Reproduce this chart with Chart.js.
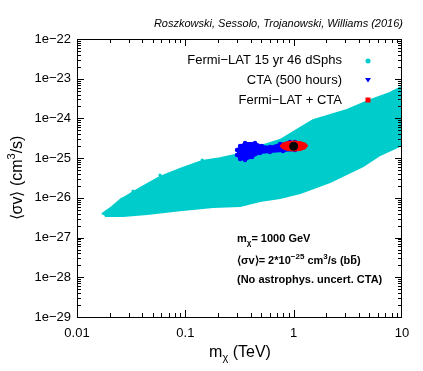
<!DOCTYPE html>
<html>
<head>
<meta charset="utf-8">
<script src="https://cdn.jsdelivr.net/npm/chart.js@4.4.1/dist/chart.umd.min.js"></script>
<style>
  html, body { margin: 0; padding: 0; background: #fff; }
  #wrap { width: 423px; height: 371px; }
</style>
</head>
<body>
<div id="wrap"><canvas id="plot" width="423" height="371"></canvas></div>
<script>
/**
 * DATA
 */
const massTicks = [0.01, 0.1, 1, 10];
const massTickLabels = ['0.01', '0.1', '1', '10'];
const sigmaTicks = [1e-29, 1e-28, 1e-27, 1e-26, 1e-25, 1e-24, 1e-23, 1e-22];
const sigmaTickLabels = ['1e\u221229', '1e\u221228', '1e\u221227', '1e\u221226', '1e\u221225', '1e\u221224', '1e\u221223', '1e\u221222'];

// Fermi-LAT 15 yr band: upper edge left -> right, then lower edge right -> left
const fermiMass  = [0.0170, 0.0210, 0.0249, 0.0382, 0.0584, 0.0893, 0.143, 0.209, 0.287, 0.489, 0.748, 1.51, 3.11, 5.07, 7.75, 10,
                    10, 6.27, 4.37, 2.16, 1.15, 0.748, 0.489, 0.320, 0.180, 0.0893, 0.0443, 0.0266, 0.0181];
const fermiSigma = [3.9e-27, 5.9e-27, 8.8e-27, 1.77e-26, 3.35e-26, 5.32e-26, 8.5e-26, 1.0e-25, 1.2e-25, 2.0e-25, 2.86e-25, 9.1e-25, 1.63e-24, 2.9e-24, 4.4e-24, 6.2e-24,
                    2.14e-25, 1.2e-25, 6.3e-26, 2.51e-26, 1.32e-26, 9.9e-27, 8.3e-27, 6.2e-27, 5.9e-27, 4.9e-27, 3.9e-27, 3.5e-27, 3.5e-27];
// stray scan points outside the dense band
const fermiLooseMass  = [0.0202, 0.026, 0.0329, 0.0584, 0.0803, 0.0912, 0.143, 3.31, 5.88, 7.27, 8.26, 9.59];
const fermiLooseSigma = [4.94e-27, 9.35e-27, 1.49e-26, 3.76e-26, 4.48e-26, 4.48e-26, 8.97e-26, 1.63e-24, 2.75e-24, 3.27e-24, 4.63e-24, 5.83e-24];

// CTA (500 hours) region outline
const ctaMass  = [0.300, 0.320, 0.356, 0.440, 0.510, 0.605, 0.748, 0.925, 1.03,
                  1.03, 0.797, 0.605, 0.489, 0.413, 0.356, 0.320, 0.300];
const ctaSigma = [1.60e-25, 2.02e-25, 2.40e-25, 2.40e-25, 2.02e-25, 1.91e-25, 2.27e-25, 2.55e-25, 2.55e-25,
                  1.60e-25, 1.51e-25, 1.43e-25, 1.35e-25, 1.07e-25, 8.97e-26, 9.5e-26, 1.2e-25];

// Fermi-LAT + CTA region outline
const comboMass  = [1.356, 1.300, 1.169, 1.007, 0.868, 0.781, 0.748, 0.781, 0.868, 1.007, 1.169, 1.300];
const comboSigma = [2.02e-25, 2.34e-25, 2.59e-25, 2.70e-25, 2.59e-25, 2.34e-25, 2.02e-25, 1.75e-25, 1.57e-25, 1.51e-25, 1.57e-25, 1.75e-25];

// benchmark point
const benchMass = [1];
const benchSigma = [2e-25];

const FONT = "'Liberation Sans', Arial, Helvetica, sans-serif";
const CYAN = '#00cccc';

const toXY = (xs, ys) => xs.map((x, i) => ({ x: x, y: ys[i] }));

/**
 * PLUGINS
 */
// fills the closed outline of datasets flagged with "area"
const areaFill = {
    id: 'areaFill',
    beforeDatasetDraw(chart, args) {
        const ds = chart.data.datasets[args.index];
        if (!ds.area) return;
        const a = chart.chartArea, ctx = chart.ctx;
        ctx.save();
        ctx.beginPath(); ctx.rect(a.left, a.top, a.right - a.left, a.bottom - a.top); ctx.clip();
        ctx.beginPath();
        args.meta.data.forEach((p, i) => i ? ctx.lineTo(p.x, p.y) : ctx.moveTo(p.x, p.y));
        ctx.closePath();
        ctx.fillStyle = ds.backgroundColor;
        ctx.fill();
        ctx.restore();
    }
};

function drawRuns(ctx, x, y, runs, align) {
    let total = 0;
    runs.forEach(r => { ctx.font = r.font; r.w = ctx.measureText(r.t).width; total += r.w; });
    let cx = align === 'center' ? x - total / 2 : (align === 'right' ? x - total : x);
    runs.forEach(r => { ctx.font = r.font; ctx.fillText(r.t, cx, y + (r.dy || 0)); r.x = cx; cx += r.w; });
    return runs;
}

// frame, inward ticks, labels, legend and notes
const decorations = {
    id: 'decorations',
    afterDraw(chart) {
        const ctx = chart.ctx, a = chart.chartArea;
        const xs = chart.scales.x, ys = chart.scales.y;
        ctx.save();
        ctx.strokeStyle = '#000';
        ctx.lineWidth = 1;
        ctx.strokeRect(a.left + 0.5, a.top + 0.5, a.right - a.left - 1, a.bottom - a.top);

        ctx.beginPath();
        for (let d = -2; d <= 0; d++) {
            for (let k = 1; k <= 9; k++) {
                const px = Math.round(xs.getPixelForValue(k * Math.pow(10, d))) + 0.5;
                const len = k === 1 ? 7 : 4;
                ctx.moveTo(px, a.bottom); ctx.lineTo(px, a.bottom - len);
                ctx.moveTo(px, a.top); ctx.lineTo(px, a.top + len);
            }
        }
        for (let d = -29; d <= -23; d++) {
            for (let k = 1; k <= 9; k++) {
                const py = Math.round(ys.getPixelForValue(k * Math.pow(10, d))) + 0.5;
                const len = k === 1 ? 7 : 4;
                ctx.moveTo(a.left, py); ctx.lineTo(a.left + len, py);
                ctx.moveTo(a.right, py); ctx.lineTo(a.right - len, py);
            }
        }
        ctx.stroke();

        ctx.fillStyle = '#000';
        ctx.textBaseline = 'alphabetic';

        // header credit
        ctx.font = 'italic 11px ' + FONT;
        ctx.textAlign = 'right';
        ctx.fillText('Roszkowski, Sessolo, Trojanowski, Williams (2016)', 403, 27);

        // legend
        ctx.font = '13px ' + FONT;
        ctx.textBaseline = 'middle';
        ctx.fillText('Fermi\u2212LAT 15 yr 46 dSphs', 342, 60);
        ctx.fillText('CTA (500 hours)', 342, 80);
        ctx.fillText('Fermi\u2212LAT + CTA', 342, 100);
        ctx.fillStyle = CYAN;
        ctx.beginPath(); ctx.arc(368, 61, 2.5, 0, Math.PI * 2); ctx.fill();
        ctx.fillStyle = '#0000ff';
        ctx.beginPath(); ctx.moveTo(365, 78); ctx.lineTo(371, 78); ctx.lineTo(368, 82.5); ctx.closePath(); ctx.fill();
        ctx.fillStyle = '#ff0000';
        ctx.fillRect(365.5, 97.5, 5, 5);

        // axis titles
        ctx.fillStyle = '#000';
        ctx.textAlign = 'left';
        ctx.textBaseline = 'alphabetic';
        drawRuns(ctx, 240, 357, [
            { t: 'm', font: '16px ' + FONT },
            { t: '\u03c7', font: '11px ' + FONT, dy: 4 },
            { t: ' (TeV)', font: '16px ' + FONT }
        ], 'center');

        ctx.save();
        ctx.translate(22, 178);
        ctx.rotate(-Math.PI / 2);
        drawRuns(ctx, 0, 0, [
            { t: '\u27e8\u03c3v\u27e9 (cm', font: '16px ' + FONT },
            { t: '3', font: '11px ' + FONT, dy: -7 },
            { t: '/s)', font: '16px ' + FONT }
        ], 'center');
        ctx.restore();

        // benchmark notes
        const B = 'bold 11px ' + FONT, Bs = 'bold 8px ' + FONT;
        drawRuns(ctx, 237, 242, [
            { t: 'm', font: B },
            { t: '\u03c7', font: Bs, dy: 3 },
            { t: '= 1000 GeV', font: B }
        ], 'left');
        const r2 = drawRuns(ctx, 237, 264, [
            { t: '\u27e8\u03c3v\u27e9= 2*10', font: B },
            { t: '\u221225', font: Bs, dy: -5 },
            { t: ' cm', font: B },
            { t: '3', font: Bs, dy: -5 },
            { t: '/s (bb', font: B },
            { t: ')', font: B }
        ], 'left');
        // bar over the second b
        const bRun = r2[4];
        ctx.font = B;
        const bw = ctx.measureText('b').width;
        ctx.fillRect(bRun.x + bRun.w - bw + 1, 255, bw - 2, 1.2);
        drawRuns(ctx, 237, 283, [{ t: '(No astrophys. uncert. CTA)', font: B }], 'left');
        ctx.restore();
    }
};

/**
 * CHART
 */
new Chart(document.getElementById('plot'), {
    type: 'scatter',
    data: {
        datasets: [
            { label: 'benchmark', data: toXY(benchMass, benchSigma), backgroundColor: '#000', borderColor: '#000', pointRadius: 4, order: 0 },
            { label: 'Fermi-LAT + CTA', area: true, data: toXY(comboMass, comboSigma), showLine: true, backgroundColor: '#ff0000', borderColor: '#ff0000', borderWidth: 1, pointRadius: 0, order: 1 },
            { label: 'CTA (500 hours)', area: true, data: toXY(ctaMass, ctaSigma), showLine: true, backgroundColor: '#0000ff', borderColor: '#0000ff', borderWidth: 2, pointRadius: 1.2, order: 2 },
            { label: 'Fermi-LAT loose', data: toXY(fermiLooseMass, fermiLooseSigma), backgroundColor: CYAN, borderColor: CYAN, pointRadius: 1.6, borderWidth: 0, order: 3 },
            { label: 'Fermi-LAT 15 yr 46 dSphs', area: true, data: toXY(fermiMass, fermiSigma), showLine: true, backgroundColor: CYAN, borderColor: CYAN, borderWidth: 2, pointRadius: 0, order: 4 }
        ]
    },
    options: {
        responsive: false,
        animation: false,
        devicePixelRatio: 1,
        layout: { padding: { top: 39, right: 21, left: 0, bottom: 0 } },
        plugins: { legend: { display: false }, tooltip: { enabled: false } },
        scales: {
            x: {
                type: 'logarithmic', min: 0.01, max: 10,
                grid: { display: false, drawTicks: false },
                border: { display: false },
                afterBuildTicks: s => { s.ticks = massTicks.map(v => ({ value: v })); },
                afterFit: s => { s.height = 54; },
                ticks: {
                    autoSkip: false, maxRotation: 0, padding: 9, color: '#000',
                    font: { family: FONT, size: 13 },
                    callback: v => massTickLabels[massTicks.findIndex(t => Math.abs(Math.log10(t) - Math.log10(v)) < 1e-6)]
                }
            },
            y: {
                type: 'logarithmic', min: 1e-29, max: 1e-22,
                grid: { display: false, drawTicks: false },
                border: { display: false },
                afterBuildTicks: s => { s.ticks = sigmaTicks.map(v => ({ value: v })); },
                afterFit: s => { s.width = 77; },
                ticks: {
                    autoSkip: false, padding: 6, color: '#000',
                    font: { family: FONT, size: 13 },
                    callback: v => sigmaTickLabels[sigmaTicks.findIndex(t => Math.abs(Math.log10(t) - Math.log10(v)) < 1e-6)]
                }
            }
        }
    },
    plugins: [areaFill, decorations]
});
</script>
</body>
</html>
